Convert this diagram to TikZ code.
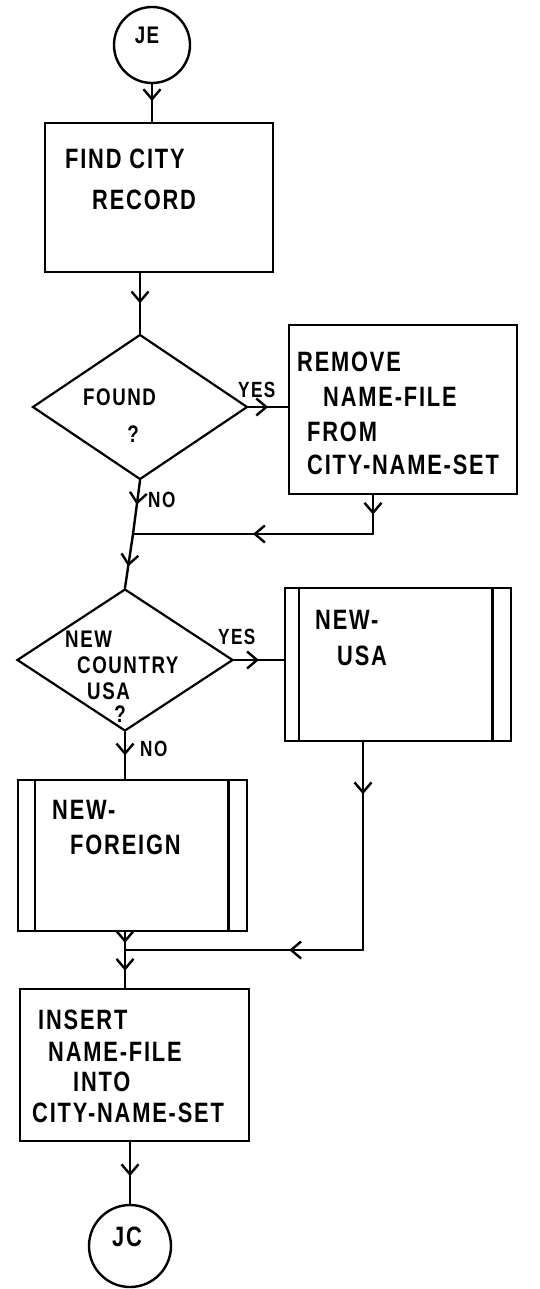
\documentclass[tikz,border=0pt]{standalone}
\usepackage{fontspec}
\setmainfont{Liberation Sans}[FakeStretch=0.78, LetterSpace=6.5]
\usetikzlibrary{shapes.geometric,arrows.meta,decorations.markings}

\tikzset{
  boxnode/.style={draw, rectangle, line width=2.6pt, inner sep=0pt},
  decnode/.style={draw, diamond, line width=2.2pt, inner sep=0pt},
  termnode/.style={draw, circle, line width=2.4pt, inner sep=0pt},
  txt/.style={anchor=west, inner sep=0pt, font=\bfseries\fontsize{28}{28}\selectfont},
  dtxt/.style={anchor=west, inner sep=0pt, font=\bfseries\fontsize{24}{24}\selectfont},
  lbl/.style={anchor=west, inner sep=0pt, font=\bfseries\fontsize{22}{22}\selectfont},
  conn/.style={line width=2.4pt, line cap=round, line join=round},
  midarrow/.style={conn, postaction={decorate},
    decoration={markings, mark=at position #1 with
      {\arrow{Straight Barb[length=10pt,width=17pt,line width=2.4pt]}}}},
  midarrow/.default=0.5
}

\begin{document}
\begin{tikzpicture}[x=1pt,y=-1pt]
\fill[white] (0,0) rectangle (540,1289);
\useasboundingbox (0,0) rectangle (540,1289);

% entry connector
\node[termnode, minimum size=76pt] (je) at (152,45) {};
\node[inner sep=0pt, font=\bfseries\fontsize{24}{24}\selectfont] (jetxt) at (147,35) {JE};

% find the city record
\node[boxnode, minimum width=228pt, minimum height=149pt] (find) at (159,197.5) {};
\node[txt] (find1) at (65,159) {FIND CITY};
\node[txt] (find2) at (92,200) {RECORD};

% found?
\node[decnode, minimum width=215pt, minimum height=145pt] (found) at (140,407) {};
\node[dtxt] (found1) at (83,397) {FOUND};
\node[dtxt, anchor=center] (found2) at (133,434) {?};
\node[lbl] (yes1) at (238,390) {YES};
\node[lbl] (no1) at (148,500) {NO};

% remove name-file
\node[boxnode, minimum width=228pt, minimum height=169pt] (remove) at (403,409.5) {};
\node[txt] (rem1) at (297,362) {REMOVE};
\node[txt] (rem2) at (323,397) {NAME-FILE};
\node[txt] (rem3) at (307,432) {FROM};
\node[txt] (rem4) at (307,465) {CITY-NAME-SET};

\coordinate (j1) at (133,534);
\coordinate (r1) at (373,534);

% new country usa?
\node[decnode, minimum width=216pt, minimum height=142pt] (country) at (125,660) {};
\node[dtxt] (cty1) at (65,639) {NEW};
\node[dtxt] (cty2) at (77,665) {COUNTRY};
\node[dtxt] (cty3) at (87,691) {USA};
\node[dtxt, anchor=center] (cty4) at (120,714) {?};
\node[lbl] (yes2) at (218,637) {YES};
\node[lbl] (no2) at (140,749) {NO};

% predefined process: new-usa
\node[boxnode, minimum width=226pt, minimum height=153pt] (usa) at (398,664.5) {};
\draw[line width=2.4pt] ([xshift=15pt]usa.north west) -- ([xshift=15pt]usa.south west);
\draw[line width=2.4pt] ([xshift=-20pt]usa.north east) -- ([xshift=-20pt]usa.south east);
\node[txt] (usa1) at (315,620) {NEW-};
\node[txt] (usa2) at (337,656) {USA};

% predefined process: new-foreign
\node[boxnode, minimum width=229pt, minimum height=151pt] (foreign) at (132.5,855.5) {};
\draw[line width=2.4pt] ([xshift=18pt]foreign.north west) -- ([xshift=18pt]foreign.south west);
\draw[line width=2.4pt] ([xshift=-20pt]foreign.north east) -- ([xshift=-20pt]foreign.south east);
\node[txt] (for1) at (52,810) {NEW-};
\node[txt] (for2) at (70,845) {FOREIGN};

\coordinate (j2) at (125,950);
\coordinate (u1) at (363,950);

% insert name-file
\node[boxnode, minimum width=229pt, minimum height=152pt] (insert) at (134.5,1065) {};
\node[txt] (ins1) at (38,1020) {INSERT};
\node[txt] (ins2) at (48,1052) {NAME-FILE};
\node[txt] (ins3) at (73,1082) {INTO};
\node[txt] (ins4) at (32,1113) {CITY-NAME-SET};

% exit connector
\node[termnode, minimum size=82pt] (jc) at (130,1246) {};
\node[inner sep=0pt, font=\bfseries\fontsize{28}{28}\selectfont] (jctxt) at (127,1237) {JC};

% flow lines
\draw[midarrow=0.45] (je.south) -- (je.south |- find.north);
\draw[midarrow=0.5] (find.south -| found.north) -- (found.north);
\draw[midarrow=0.5] (found.east) -- (found.east -| remove.west);
\draw[midarrow=0.5] (remove.south -| r1) -- (r1);
\draw[midarrow=0.5] (r1) -- (j1);
\draw[midarrow=0.45] (found.south) -- (j1);
\draw[midarrow=0.6] (j1) -- (country.north);
\draw[midarrow=0.5] (country.east) -- (country.east -| usa.west);
\draw[midarrow=0.5] (country.south) -- (country.south |- foreign.north);
\draw[midarrow=0.25] (usa.south -| u1) -- (u1);
\draw[midarrow=0.31] (u1) -- (j2);
\draw[midarrow=0.6] (foreign.south -| j2) -- (j2);
\draw[midarrow=0.55] (j2) -- (j2 |- insert.north);
\draw[midarrow=0.55] (insert.south -| jc.north) -- (jc.north);
\end{tikzpicture}
\end{document}
